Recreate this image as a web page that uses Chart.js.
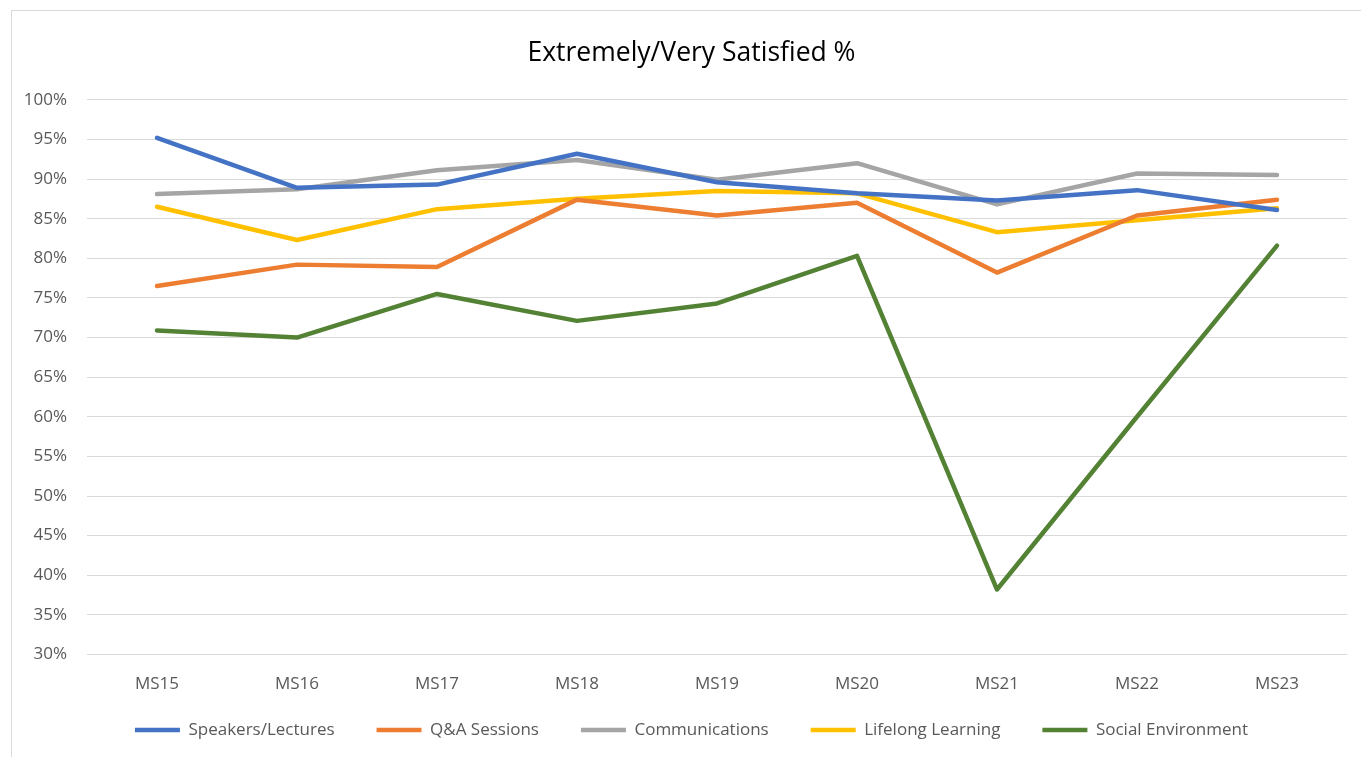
<!DOCTYPE html>
<html>
<head>
<meta charset="utf-8">
<script src="https://cdn.jsdelivr.net/npm/chart.js@4/dist/chart.umd.min.js"></script>
<style>
  html, body { margin: 0; padding: 0; background: #ffffff; }
  #wrap { width: 1361px; height: 757px; position: relative; }
</style>
</head>
<body>
<div id="wrap"><canvas id="c" width="1361" height="757"></canvas></div>
<script>
const categories = ["MS15", "MS16", "MS17", "MS18", "MS19", "MS20", "MS21", "MS22", "MS23"];
const speakersLectures = [95.2, 88.9, 89.3, 93.2, 89.6, 88.2, 87.3, 88.6, 86.1];
const qaSessions       = [76.5, 79.2, 78.9, 87.4, 85.4, 87.0, 78.2, 85.4, 87.4];
const communications   = [88.1, 88.7, 91.1, 92.4, 89.9, 92.0, 86.8, 90.7, 90.5];
const lifelongLearning = [86.5, 82.3, 86.2, 87.5, 88.5, 88.2, 83.3, 84.8, 86.3];
const socialEnvironment= [70.9, 70.0, 75.5, 72.1, 74.3, 80.3, 38.2, 60.0, 81.6];
const seriesNames = ["Speakers/Lectures", "Q&A Sessions", "Communications", "Lifelong Learning", "Social Environment"];
const yTicks = { min: 30, max: 100, step: 5 };

const colors = ["#4472C4", "#ED7D31", "#A5A5A5", "#FFC000", "#548235"];
const seriesData = [speakersLectures, qaSessions, communications, lifelongLearning, socialEnvironment];
const FONT = "'Open Sans', sans-serif";

const frame = {
  id: 'frame',
  beforeDraw(chart) {
    const ctx = chart.ctx;
    ctx.save();
    ctx.fillStyle = '#ffffff';
    ctx.fillRect(0, 0, chart.width, chart.height);
    ctx.strokeStyle = '#D9D9D9';
    ctx.lineWidth = 1;
    ctx.strokeRect(11.5, 10.5, 1400, 800);
    ctx.restore();
  }
};

// widen the label clipping boxes of the axes so tick labels are not cut
const unclipLabels = {
  id: 'unclipLabels',
  afterLayout(chart) {
    const x = chart.scales.x, y = chart.scales.y;
    x.bottom = x.top + 48;
    y.left = 0;
  }
};

new Chart(document.getElementById('c'), {
  type: 'line',
  data: {
    labels: categories,
    datasets: seriesData.map((d, i) => ({
      label: seriesNames[i],
      data: d,
      borderColor: colors[i],
      backgroundColor: colors[i],
      borderWidth: 4.5,
      pointRadius: 0,
      pointHoverRadius: 0,
      pointStyle: 'line',
      tension: 0,
      borderCapStyle: 'round',
      borderJoinStyle: 'round'
    }))
  },
  options: {
    responsive: false,
    animation: false,
    devicePixelRatio: 1,
    layout: { padding: { left: 36, right: 14, top: 0, bottom: 8.5 } },
    plugins: {
      title: {
        display: true,
        text: 'Extremely/Very Satisfied %',
        color: '#000000',
        font: { family: FONT, size: 26.5, weight: 'normal' },
        padding: { top: 38, bottom: 30 }
      },
      legend: {
        display: true,
        position: 'bottom',
        labels: {
          usePointStyle: true,
          pointStyleWidth: 45,
          color: '#595959',
          font: { family: FONT, size: 17 },
          padding: 42
        }
      },
      tooltip: { enabled: false }
    },
    scales: {
      x: {
        afterFit(scale) { scale.height = 25; },
        grid: { display: false, drawTicks: false },
        border: { display: false },
        offset: true,
        ticks: { color: '#595959', font: { family: FONT, size: 17 }, padding: 19, maxRotation: 0 }
      },
      y: {
        min: yTicks.min,
        max: yTicks.max,
        afterFit(scale) { scale.width = 51; },
        grid: { color: '#D9D9D9', lineWidth: 1, drawTicks: false },
        border: { display: false },
        ticks: {
          stepSize: yTicks.step,
          color: '#595959',
          font: { family: FONT, size: 17 },
          padding: 20,
          callback: v => v + '%'
        }
      }
    }
  },
  plugins: [frame, unclipLabels]
});
</script>
</body>
</html>
